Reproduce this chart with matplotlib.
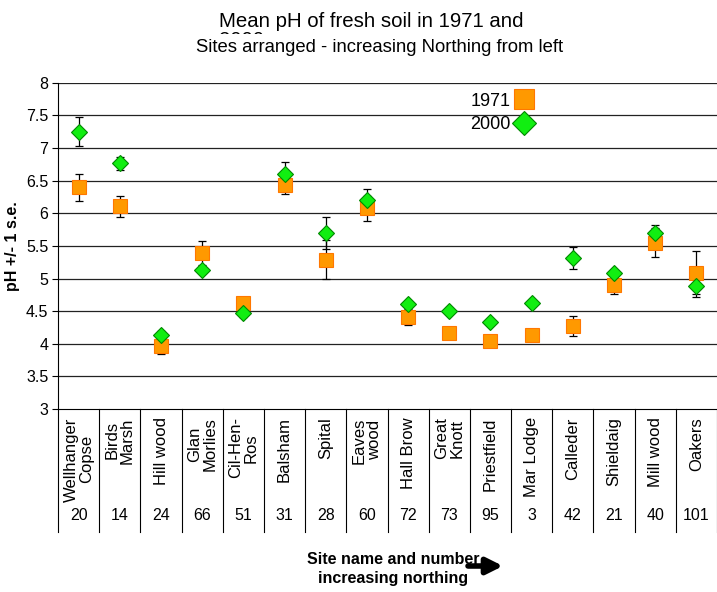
import matplotlib
matplotlib.use("Agg")
import matplotlib.pyplot as plt
import matplotlib.transforms as mtransforms
import numpy as np

plt.rcParams["font.family"] = ["Liberation Sans", "DejaVu Sans"]

sites = ["Wellhanger\nCopse", "Birds\nMarsh", "Hill wood", "Glan\nMorlies", "Cil-Hen-\nRos",
         "Balsham", "Spital", "Eaves\nwood", "Hall Brow", "Great\nKnott", "Priestfield",
         "Mar Lodge", "Calleder", "Shieldaig", "Mill wood", "Oakers"]
site_numbers = [20, 14, 24, 66, 51, 31, 28, 60, 72, 73, 95, 3, 42, 21, 40, 101]

ph_1971 = [6.40, 6.11, 3.97, 5.39, 4.62, 6.44, 5.29, 6.08, 4.41, 4.17, 4.04, 4.13, 4.27, 4.90, 5.55, 5.09]
se_1971 = [0.21, 0.16, 0.13, 0.18, 0.10, 0.15, 0.30, 0.19, 0.12, np.nan, np.nan, np.nan, 0.15, 0.14, 0.22, 0.33]
ph_2000 = [7.25, 6.77, 4.13, 5.13, 4.48, 6.61, 5.70, 6.21, 4.61, 4.51, 4.33, 4.62, 5.31, 5.08, 5.70, 4.88]
se_2000 = [0.22, 0.10, 0.07, 0.05, 0.07, 0.17, 0.25, 0.16, 0.05, np.nan, np.nan, np.nan, 0.17, 0.05, 0.12, 0.16]

y_ticks = np.arange(3, 8.01, 0.5)

fig = plt.figure(figsize=(7.17, 5.92), dpi=100)
ax = fig.add_axes([0.081, 0.309, 0.919, 0.551])

x = np.arange(len(sites))

# error bars first, markers on top (2000 above 1971)
ax.errorbar(x, ph_1971, yerr=se_1971, fmt="none", ecolor="black", elinewidth=0.9, capsize=3, capthick=0.9, zorder=3)
ax.errorbar(x, ph_2000, yerr=se_2000, fmt="none", ecolor="black", elinewidth=0.9, capsize=3, capthick=0.9, zorder=3)
ax.plot(x, ph_1971, linestyle="none", marker="s", markersize=9.5, markerfacecolor="#FF9900",
        markeredgecolor="#FF7700", markeredgewidth=0.8, label="1971", zorder=4)
ax.plot(x, ph_2000, linestyle="none", marker="D", markersize=8.5, markerfacecolor="#11EE11",
        markeredgecolor="#008800", markeredgewidth=0.8, label="2000", zorder=5)

ax.set_xlim(-0.5, len(sites) - 0.5)
ax.set_ylim(3, 8)
ax.set_yticks(y_ticks)
ax.set_yticklabels([f"{v:g}" for v in y_ticks], fontsize=11.5)
ax.tick_params(axis="y", direction="out", length=4, width=0.8, pad=3)
ax.set_xticks([])
for v in y_ticks[1:]:
    ax.axhline(v, color="#222222", linewidth=0.9, zorder=1)
for side in ["top", "right"]:
    ax.spines[side].set_visible(False)
ax.spines["left"].set_linewidth(0.8)
ax.spines["bottom"].set_linewidth(0.8)

ax.set_ylabel("pH +/- 1 s.e.", fontsize=11.5, fontweight="bold")
ax.yaxis.set_label_coords(-0.058, 0.5)

# category table under the axis
trans = mtransforms.blended_transform_factory(ax.transData, ax.transAxes)
for boundary in np.arange(-0.5, len(sites), 1.0):
    ax.plot([boundary, boundary], [0, -0.377], color="black", linewidth=0.8, transform=trans, clip_on=False)
for i, (name, num) in enumerate(zip(sites, site_numbers)):
    ax.text(i, -0.025, name, rotation=90, ha="center", va="top", multialignment="center",
            fontsize=12, linespacing=1.02, transform=trans)
    ax.text(i, -0.325, str(num), ha="center", va="center", fontsize=11.5, transform=trans)

ax.legend(loc="upper left", bbox_to_anchor=(0.626, 0.97), frameon=False, markerfirst=False,
          fontsize=13, handlelength=1.0, handletextpad=0.2, labelspacing=0.35, markerscale=1.45,
          borderpad=0, borderaxespad=0)

# titles (the second title line is partly hidden by the subtitle)
fig.text(219 / 717, 1 - 12 / 592, "Mean pH of fresh soil in 1971 and\n2000", ha="left", va="top",
         multialignment="left", fontsize=14.7, linespacing=0.98)
fig.text(380 / 717, 1 - 47 / 592, "Sites arranged - increasing Northing from left", ha="center", va="center",
         fontsize=13.3, bbox=dict(facecolor="white", edgecolor="none", pad=3))

fig.text(393 / 717, 1 - 560 / 592, "Site name and number", ha="center", va="center", fontsize=11.5, fontweight="bold")
fig.text(393 / 717, 1 - 578 / 592, "increasing northing", ha="center", va="center", fontsize=11.5, fontweight="bold")
ax.annotate("", xy=(503, 592 - 566), xytext=(468, 592 - 566), xycoords="figure pixels",
            textcoords="figure pixels",
            arrowprops=dict(arrowstyle="-|>", color="black", lw=4, mutation_scale=24, shrinkA=0, shrinkB=0))

fig.savefig("out.png", dpi=100)
